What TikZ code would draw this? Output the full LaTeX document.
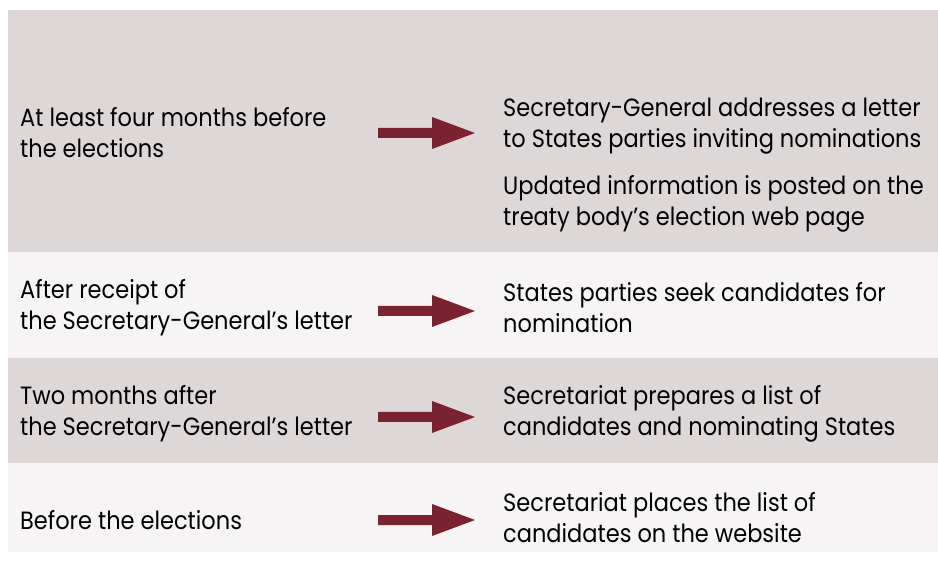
\documentclass[tikz,border=0pt]{standalone}
\usepackage{fontspec}
\setmainfont[FakeStretch=0.9]{Poppins}
\definecolor{banddark}{HTML}{DDD7D7}
\definecolor{bandlight}{HTML}{F6F4F5}
\definecolor{arrowred}{HTML}{7A2230}
\tikzset{
  txt/.style={anchor=west, align=left, inner sep=0pt, font=\fontsize{25}{31}\selectfont, text=black},
  dark/.style={fill=banddark, draw=none},
  light/.style={fill=bandlight, draw=none},
  bigarrow/.style={fill=arrowred, draw=none}
}
\begin{document}
\begin{tikzpicture}[x=1pt,y=-1pt]
\useasboundingbox (0,0) rectangle (938,561);
\fill[white] (0,0) rectangle (938,561);
% bands
\path[dark]  (8,10)  rectangle (938,252);
\path[light] (8,252) rectangle (938,358);
\path[dark]  (8,358) rectangle (938,463);
\path[light] (8,463) rectangle (938,552);
% left texts
\node[txt] (l1) at (20,133) {At least four months before\\the elections};
\node[txt] (l2) at (20,308) {After receipt of\\the Secretary-General’s letter};
\node[txt] (l3) at (20,414) {Two months after\\the Secretary-General’s letter};
\node[txt] (l4) at (20,520) {Before the elections};
% right texts
\node[txt] (r1a) at (503,126) {Secretary-General addresses a letter\\to States parties inviting nominations};
\node[txt] (r1b) at (503,204) {Updated information is posted on the\\treaty body’s election web page};
\node[txt] (r2) at (503,308) {States parties seek candidates for\\nomination};
\node[txt] (r3) at (503,414) {Secretariat prepares a list of\\candidates and nominating States};
\node[txt] (r4) at (503,518) {Secretariat places the list of\\candidates on the website};
% arrows
\foreach \y/\n in {133/a1,311/a2,417/a3,520/a4}{
  \coordinate (\n) at (378,\y);
  \fill[bigarrow] (\n) ++(0,-5) -- ++(54,0) -- ++(0,-11) -- ++(43,16) -- ++(-43,16) -- ++(0,-11) -- ++(-54,0) -- cycle;
}
\end{tikzpicture}
\end{document}
